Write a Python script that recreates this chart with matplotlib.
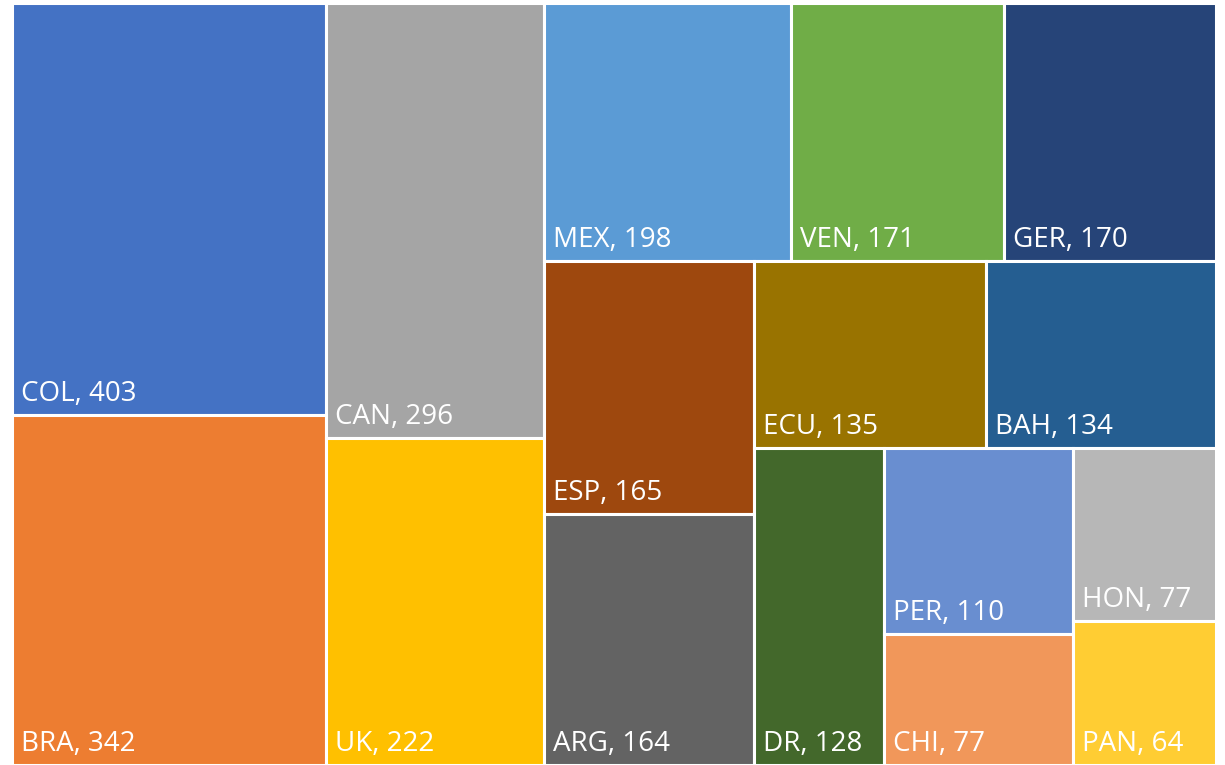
import matplotlib
matplotlib.use("Agg")
import matplotlib.pyplot as plt
from matplotlib.patches import Rectangle

countries = ["COL", "BRA", "CAN", "UK", "MEX", "VEN", "GER", "ESP",
             "ARG", "ECU", "BAH", "DR", "PER", "CHI", "HON", "PAN"]
values = [403, 342, 296, 222, 198, 171, 170, 165,
          164, 135, 134, 128, 110, 77, 77, 64]
colors = ["#4472C4", "#ED7D31", "#A5A5A5", "#FFC000", "#5B9BD5", "#70AD47",
          "#264478", "#9E480E", "#636363", "#997300", "#255E91", "#43682B",
          "#698ED0", "#F1975A", "#B7B7B7", "#FFCD33"]
# how many boxes go into each strip
strip_sizes = [2, 2, 3, 2, 2, 1, 2, 2]

FIG_W, FIG_H = 1225, 765
fig = plt.figure(figsize=(FIG_W / 100, FIG_H / 100), dpi=100)
ax = fig.add_axes([12 / FIG_W, 0, 1204 / FIG_W, 762 / FIG_H])
W, H = 1204, 762


def strip_layout(vals, sizes, x, y, w, h):
    # lay strips along the shorter side of what is left, y counted from the top
    rects = []
    total = sum(vals)
    i = 0
    for k, n in enumerate(sizes):
        group = vals[i:i + n]
        s = sum(group)
        last = k == len(sizes) - 1
        # the last strip fills the rest, so stack it along the longer side
        column = (h >= w) if last else (w >= h)
        if column:
            sw = w * s / total
            yy = y
            for v in group:
                vh = h * v / s
                rects.append((x, yy, sw, vh))
                yy += vh
            x += sw
            w -= sw
        else:
            sh = h * s / total
            xx = x
            for v in group:
                vw = w * v / s
                rects.append((xx, y, vw, sh))
                xx += vw
            y += sh
            h -= sh
        total -= s
        i += n
    return rects


rects = strip_layout(values, strip_sizes, 0, 0, W, H)

for (x, y, w, h), name, val, col in zip(rects, countries, values, colors):
    ax.add_patch(Rectangle((x, y), w, h, facecolor=col, edgecolor="white",
                           linewidth=2.2))
    ax.annotate(f"{name}, {val}", xy=(x, y + h), xytext=(9, 14),
                textcoords="offset pixels", ha="left", va="baseline",
                color="white", fontsize=20, family="Open Sans")

ax.set_xlim(0, W)
ax.set_ylim(H, 0)
ax.axis("off")

fig.savefig("out.png", dpi=100)
